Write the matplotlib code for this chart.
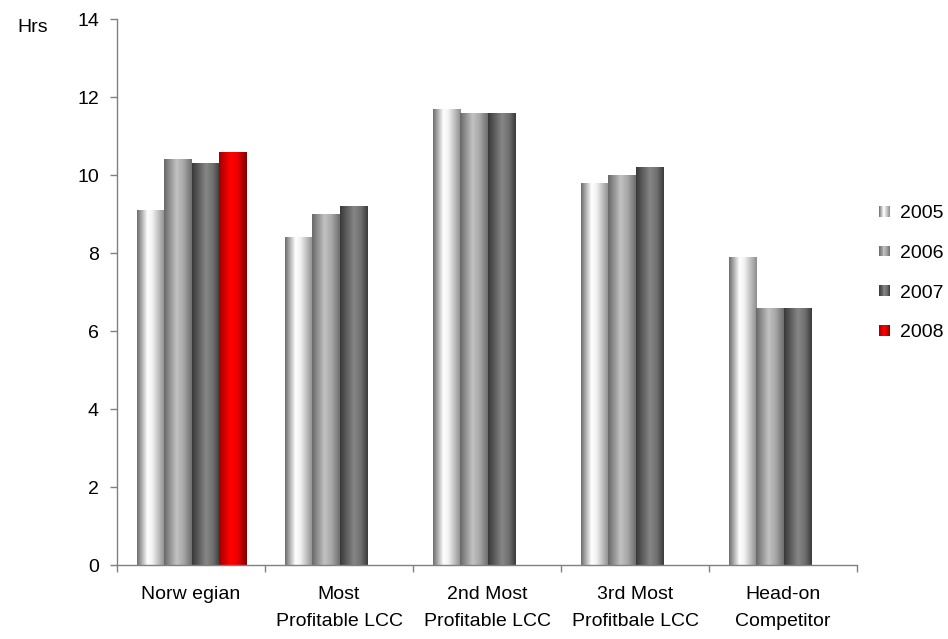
import numpy as np
import matplotlib
matplotlib.use("Agg")
import matplotlib.pyplot as plt
from matplotlib.colors import LinearSegmentedColormap
from matplotlib.patches import Rectangle
from matplotlib.legend_handler import HandlerBase

plt.rcParams["font.family"] = ["Liberation Sans", "DejaVu Sans"]

categories = ["Norw egian", "Most\nProfitable LCC", "2nd Most\nProfitable LCC",
              "3rd Most\nProfitbale LCC", "Head-on\nCompetitor"]
years = ["2005", "2006", "2007", "2008"]
values = {
    "2005": [9.1, 8.4, 11.7, 9.8, 7.9],
    "2006": [10.4, 9.0, 11.6, 10.0, 6.6],
    "2007": [10.3, 9.2, 11.6, 10.2, 6.6],
    "2008": [10.6, None, None, None, None],
}
y_ticks = [0, 2, 4, 6, 8, 10, 12, 14]

# horizontal shading profiles giving each series a cylindrical look
shading = {
    "2005": [(0.0, "#6c6c6c"), (0.38, "#ffffff"), (0.55, "#f2f2f2"), (1.0, "#8c8c8c")],
    "2006": [(0.0, "#686868"), (0.45, "#c2c2c2"), (0.7, "#a8a8a8"), (1.0, "#6e6e6e")],
    "2007": [(0.0, "#383838"), (0.5, "#868686"), (0.75, "#707070"), (1.0, "#3a3a3a")],
    "2008": [(0.0, "#a00000"), (0.4, "#ff0000"), (0.65, "#f00000"), (1.0, "#800000")],
}
cmaps = {y: LinearSegmentedColormap.from_list("s" + y, shading[y]) for y in years}
grad = np.linspace(0, 1, 256).reshape(1, -1)

FS = 14

fig = plt.figure(figsize=(9.48, 6.39), dpi=100)
ax = fig.add_axes([117 / 948, 1 - 565 / 639, (857 - 117) / 948, (565 - 19) / 639])

bar_w = 0.185
offset = 0.135
for j, yr in enumerate(years):
    xs, hs = [], []
    for i, v in enumerate(values[yr]):
        if v is not None:
            xs.append(i + offset + j * bar_w)
            hs.append(v)
    bars = ax.bar(xs, hs, width=bar_w, align="edge", color="none", edgecolor="none")
    for rect in bars:
        x0, y0 = rect.get_x(), rect.get_y()
        im = ax.imshow(grad, cmap=cmaps[yr], aspect="auto", interpolation="bilinear",
                       extent=[x0, x0 + rect.get_width(), y0, y0 + rect.get_height()],
                       zorder=2)
        im.set_clip_path(rect)

ax.set_xlim(0, len(categories))
ax.set_ylim(0, 14)
ax.set_yticks(y_ticks)
ax.set_yticklabels([str(t) for t in y_ticks])

ax.set_xticks(np.arange(len(categories)) + 0.5)
ax.set_xticklabels(categories, linespacing=1.75)
ax.set_xticks(np.arange(len(categories) + 1), minor=True)
ax.tick_params(axis="x", which="major", length=0, pad=15, labelsize=FS)
ax.tick_params(axis="x", which="minor", length=5, width=1, color="#808080", direction="out")
ax.tick_params(axis="y", length=5, width=1, color="#808080", direction="out", pad=8,
               labelsize=FS)

for s in ("top", "right"):
    ax.spines[s].set_visible(False)
for s in ("left", "bottom"):
    ax.spines[s].set_color("#808080")
    ax.spines[s].set_linewidth(1)

fig.text(33 / 948, 1 - 27 / 639, "Hrs", ha="center", va="center", fontsize=FS)


class GradientHandler(HandlerBase):
    def __init__(self, cmap):
        super().__init__()
        self.cmap = cmap

    def create_artists(self, legend, orig_handle, xdescent, ydescent, width, height,
                       fontsize, trans):
        n = 12
        side = min(width, height * 1.2)
        y0 = -ydescent + (height - side) / 2
        arts = []
        for k in range(n):
            arts.append(Rectangle((-xdescent + k * width / n, y0), width / n + 0.3, side,
                                  facecolor=self.cmap((k + 0.5) / n), edgecolor="none",
                                  transform=trans))
        return arts


handles = [Rectangle((0, 0), 1, 1) for _ in years]
leg = fig.legend(handles, years, loc="upper left",
                 bbox_to_anchor=(879 / 948, 1 - 205 / 639),
                 handler_map={h: GradientHandler(cmaps[y]) for h, y in zip(handles, years)},
                 frameon=False, fontsize=FS, handlelength=0.55, handleheight=0.6,
                 handletextpad=0.55, labelspacing=1.17, borderpad=0, borderaxespad=0)

fig.savefig("out.png", dpi=100)
